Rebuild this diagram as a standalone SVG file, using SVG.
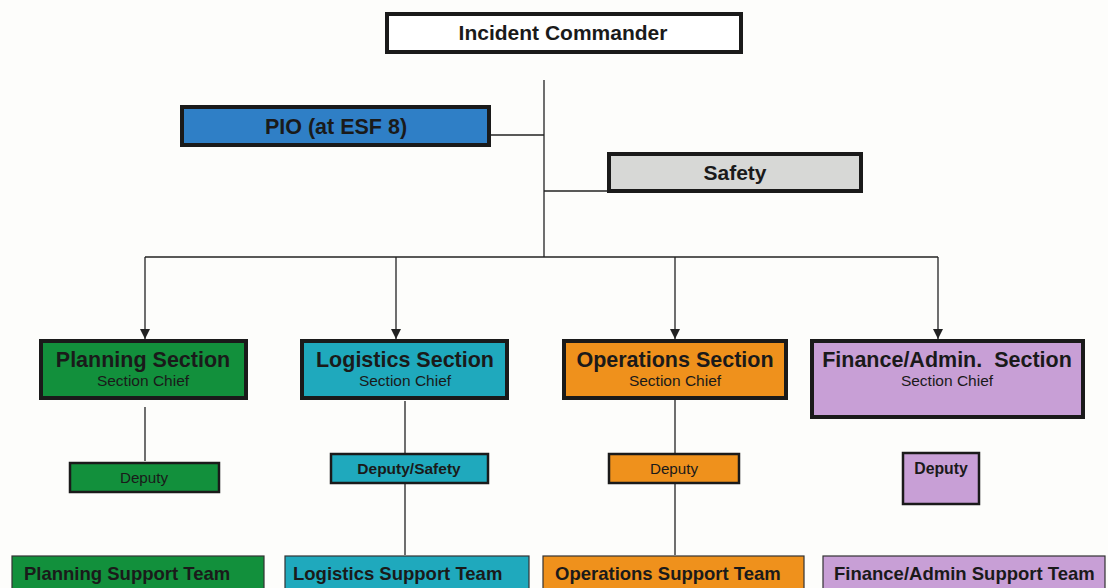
<svg xmlns="http://www.w3.org/2000/svg" width="1108" height="588" viewBox="0 0 1108 588">
<style>
.t{font-family:"Liberation Sans",Arial,sans-serif;fill:#1a1a1a}
.b{font-weight:bold}
.box{stroke:#1a1a1a;stroke-width:4}
.sm{stroke:#1a1a1a;stroke-width:2.5}
.tm{stroke:#333;stroke-width:1.2}
.ln{stroke:#222;stroke-width:1.3;fill:none}
.g{fill:#12903c}.c{fill:#1fa9bd}.o{fill:#ef911c}.p{fill:#c89fd6}
</style>
<defs>
<marker id="ah" markerWidth="10" markerHeight="10" refX="10" refY="5" orient="auto" markerUnits="userSpaceOnUse" viewBox="0 0 10 10">
<path d="M0,0 L10,5 L0,10 Z" fill="#222"/>
</marker>
</defs>
<rect width="1108" height="588" fill="#fdfdfb"/>
<g id="connectors">
<path class="ln" d="M544,80 V257"/>
<path class="ln" d="M490,135 H544"/>
<path class="ln" d="M544,191 H608"/>
<path class="ln" d="M145,257 H938"/>
<path class="ln" d="M145,257 V339" marker-end="url(#ah)"/>
<path class="ln" d="M396,257 V339" marker-end="url(#ah)"/>
<path class="ln" d="M675,257 V339" marker-end="url(#ah)"/>
<path class="ln" d="M938,257 V339" marker-end="url(#ah)"/>
<path class="ln" d="M145,407 V461"/>
<path class="ln" d="M405,401 V453"/>
<path class="ln" d="M405,483 V555"/>
<path class="ln" d="M675,388 V453"/>
<path class="ln" d="M675,483 V555"/>
</g>
<g id="incident-commander">
<rect class="box" x="387" y="14" width="354" height="38" fill="#ffffff"/>
<text class="t b" x="563" y="40" font-size="21" text-anchor="middle">Incident Commander</text>
</g>
<g id="pio">
<rect class="box" x="182" y="107" width="307" height="38" fill="#2f7fc6"/>
<text class="t b" x="336" y="134" font-size="21.5" text-anchor="middle">PIO (at ESF 8)</text>
</g>
<g id="safety">
<rect class="box" x="609" y="154" width="252" height="37" fill="#d7d8d6"/>
<text class="t b" x="735" y="180" font-size="21" text-anchor="middle">Safety</text>
</g>
<g id="planning-section">
<rect class="box g" x="41" y="341" width="205" height="57"/>
<text class="t b" x="143" y="367" font-size="21.5" text-anchor="middle">Planning Section</text>
<text class="t" x="143" y="386" font-size="15.5" text-anchor="middle" fill="#0d3a1c">Section Chief</text>
</g>
<g id="logistics-section">
<rect class="box c" x="302" y="341" width="205" height="57"/>
<text class="t b" x="405" y="367" font-size="21.5" text-anchor="middle">Logistics Section</text>
<text class="t" x="405" y="386" font-size="15.5" text-anchor="middle">Section Chief</text>
</g>
<g id="operations-section">
<rect class="box o" x="564" y="341" width="222" height="57"/>
<text class="t b" x="675" y="367" font-size="21.5" text-anchor="middle">Operations Section</text>
<text class="t" x="675" y="386" font-size="15.5" text-anchor="middle">Section Chief</text>
</g>
<g id="finance-section">
<rect class="box p" x="812" y="341" width="271" height="76"/>
<text class="t b" x="947" y="367" font-size="21.5" text-anchor="middle">Finance/Admin.&#160; Section</text>
<text class="t" x="947" y="386" font-size="15.5" text-anchor="middle">Section Chief</text>
</g>
<g id="planning-deputy">
<rect class="sm g" x="70" y="463" width="149" height="29"/>
<text class="t" x="144" y="483" font-size="15.2" text-anchor="middle" fill="#0d3a1c">Deputy</text>
</g>
<g id="logistics-deputy">
<rect class="sm c" x="331" y="454" width="157" height="29"/>
<text class="t b" x="409" y="474" font-size="15.5" text-anchor="middle">Deputy/Safety</text>
</g>
<g id="operations-deputy">
<rect class="sm o" x="609" y="454" width="130" height="29"/>
<text class="t" x="674" y="474" font-size="15.2" text-anchor="middle">Deputy</text>
</g>
<g id="finance-deputy">
<rect class="sm p" x="903" y="453" width="76" height="51"/>
<text class="t b" x="941" y="474" font-size="15.8" text-anchor="middle">Deputy</text>
</g>
<g id="planning-support">
<rect class="tm g" x="12" y="556" width="252" height="36"/>
<text class="t b" x="24" y="580" font-size="18.5">Planning Support  Team</text>
</g>
<g id="logistics-support">
<rect class="tm c" x="285" y="556" width="244" height="36"/>
<text class="t b" x="293" y="580" font-size="18.5">Logistics Support  Team</text>
</g>
<g id="operations-support">
<rect class="tm o" x="543" y="556" width="261" height="36"/>
<text class="t b" x="555" y="580" font-size="18.5">Operations Support Team</text>
</g>
<g id="finance-support">
<rect class="tm p" x="823" y="556" width="282" height="36"/>
<text class="t b" x="834" y="580" font-size="18.5">Finance/Admin Support Team</text>
</g>
</svg>
